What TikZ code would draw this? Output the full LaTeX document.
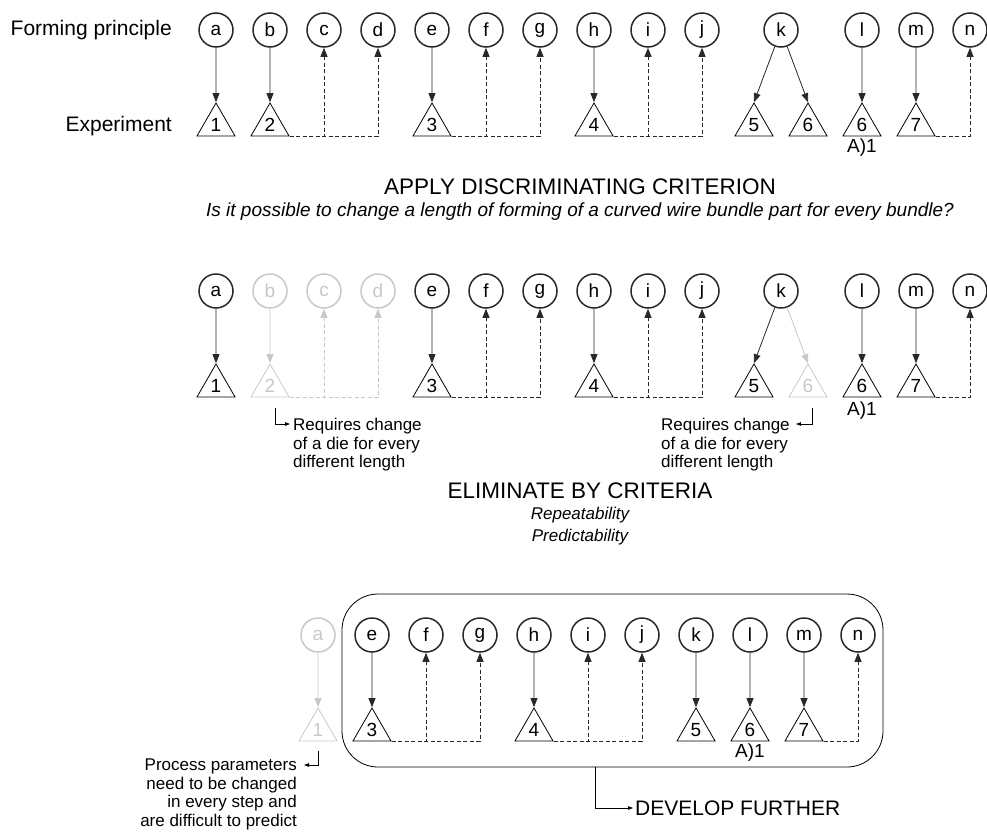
\documentclass[tikz,border=0pt]{standalone}
\usepackage{fontspec}
\setmainfont{Liberation Sans}
\usetikzlibrary{arrows.meta,positioning,shapes.geometric,fit}
\definecolor{fpdark}{RGB}{40,40,40}
\definecolor{fpfade}{RGB}{200,200,200}
\newcommand{\fsz}[1]{\fontsize{#1}{#1}\selectfont}

\begin{document}
\begin{tikzpicture}[x=1pt,y=-1pt,
  fp/.style={circle,draw=fpdark,line width=1.5pt,minimum size=34pt,inner sep=0pt,font=\fsz{19}},
  exper/.style={regular polygon,regular polygon sides=3,draw,line width=0.8pt,minimum size=44pt,inner sep=0pt,font=\fsz{19}},
  faded/.style={draw=fpfade,text=fpfade},
  hit/.style={draw=fpdark,line width=0.8pt,-{Triangle[length=9pt,width=7pt]}},
  miss/.style={hit,dash pattern=on 4pt off 2.5pt},
  elbow/.style={draw=black,line width=0.7pt,-{Triangle[length=5pt,width=3.5pt]}},
  head/.style={font=\fsz{21},inner sep=2pt},
  title/.style={font=\fsz{22.5},inner sep=2pt},
  crit/.style={font=\fsz{17}\itshape},
  note/.style={font=\fontsize{17}{18.5}\selectfont,inner sep=0pt}]
  \useasboundingbox (0,0) rectangle (987,836);
  % Row labels
  \node[head,anchor=east] (fplab) at (174,30) {Forming principle};
  \node[head,anchor=east] (exlab) at (174,126) {Experiment};
  % Row 1: all principles
  \foreach \n/\x in {a/216,b/270,c/324,d/378,e/432,f/486,g/540,h/594,i/648,j/702,k/781,l/862,m/916,n/970}
    \node[fp] (r1\n) at (\x,30) {\n};
  \foreach \t/\x/\lab in {1/216/1,2/270/2,3/432/3,4/594/4,5/754/5,6/808/6,6b/862/6,7/916/7}
    \node[exper] (r1t\t) at (\x,125) {\lab};
  \foreach \p/\t in {a/1,b/2,e/3,h/4,k/5,k/6,l/6b,m/7}
    \draw[hit] (r1\p) -- (r1t\t.north);
  \foreach \t/\p in {2/c,2/d,3/f,3/g,4/i,4/j,7/n}
    \draw[miss] (r1t\t.corner 3) -| (r1\p);
  \node[font=\fsz{19},inner sep=0pt] (r1al) at (862,148) {A)1};
  % Criterion
  \node[title] (apply) at (580,187) {APPLY DISCRIMINATING CRITERION};
  \node[crit,font=\fsz{19}\itshape] (quest) at (580,212) {Is it possible to change a length of forming of a curved wire bundle part for every bundle?};
  % Row 2: after the criterion
  \foreach \n/\x/\s in {a/216/,b/270/faded,c/324/faded,d/378/faded,e/432/,f/486/,g/540/,h/594/,i/648/,j/702/,k/781/,l/862/,m/916/,n/970/}
    \node[fp,\s] (r2\n) at (\x,291) {\n};
  \foreach \t/\x/\lab/\s in {1/216/1/,2/270/2/faded,3/432/3/,4/594/4/,5/754/5/,6/808/6/faded,6b/862/6/,7/916/7/}
    \node[exper,\s] (r2t\t) at (\x,386) {\lab};
  \foreach \p/\t/\s in {a/1/,b/2/faded,e/3/,h/4/,k/5/,k/6/faded,l/6b/,m/7/}
    \draw[hit,\s] (r2\p) -- (r2t\t.north);
  \foreach \t/\p/\s in {2/c/faded,2/d/faded,3/f/,3/g/,4/i/,4/j/,7/n/}
    \draw[miss,\s] (r2t\t.corner 3) -| (r2\p);
  \node[font=\fsz{19},inner sep=0pt] (r2al) at (862,411) {A)1};
  % Reasons
  \node[note,anchor=north west,align=left] (why2) at (293,418) {Requires change\\of a die for every\\different length};
  \node[note,anchor=north west,align=left] (why6) at (661,418) {Requires change\\of a die for every\\different length};
  \draw[elbow] ([xshift=5pt,yshift=-11pt]r2t2.south) |- ([shift={(-3pt,-6pt)}]why2.north west);
  \draw[elbow] ([xshift=4pt,yshift=-11pt]r2t6.south) |- ([shift={(6pt,-6pt)}]why6.north east);
  % Criteria
  \node[title] (elim) at (580,491) {ELIMINATE BY CRITERIA};
  \node[crit] (rep) at (580,515) {Repeatability};
  \node[crit] (pred) at (580,537) {Predictability};
  % Row 3: after elimination
  \foreach \n/\x/\s in {a/318/faded,e/372/,f/426/,g/480/,h/534/,i/588/,j/642/,k/696/,l/750/,m/804/,n/858/}
    \node[fp,\s] (r3\n) at (\x,635) {\n};
  \foreach \t/\x/\lab/\s in {1/318/1/faded,3/372/3/,4/534/4/,5/696/5/,6/750/6/,7/804/7/}
    \node[exper,\s] (r3t\t) at (\x,730) {\lab};
  \foreach \p/\t/\s in {a/1/faded,e/3/,h/4/,k/5/,l/6/,m/7/}
    \draw[hit,\s] (r3\p) -- (r3t\t.north);
  \foreach \t/\p in {3/f,3/g,4/i,4/j,7/n}
    \draw[miss] (r3t\t.corner 3) -| (r3\p);
  \node[font=\fsz{19},inner sep=0pt] (r3al) at (750,753) {A)1};
  \node[draw,line width=0.8pt,rounded corners=36pt,inner sep=0pt,fit={(342,594) (883,767)}] (keep) {};
  \node[note,anchor=north east,align=right] (why1) at (297,759) {Process parameters\\need to be changed\\in every step and\\are difficult to predict};
  \draw[elbow] ([yshift=-10pt]r3t1.south) |- ([shift={(7pt,-6pt)}]why1.north east);
  \node[head,anchor=west] (dev) at (633,808) {DEVELOP FURTHER};
  \draw[elbow] ([xshift=-17pt]keep.south) |- (dev.west);
\end{tikzpicture}
\end{document}
